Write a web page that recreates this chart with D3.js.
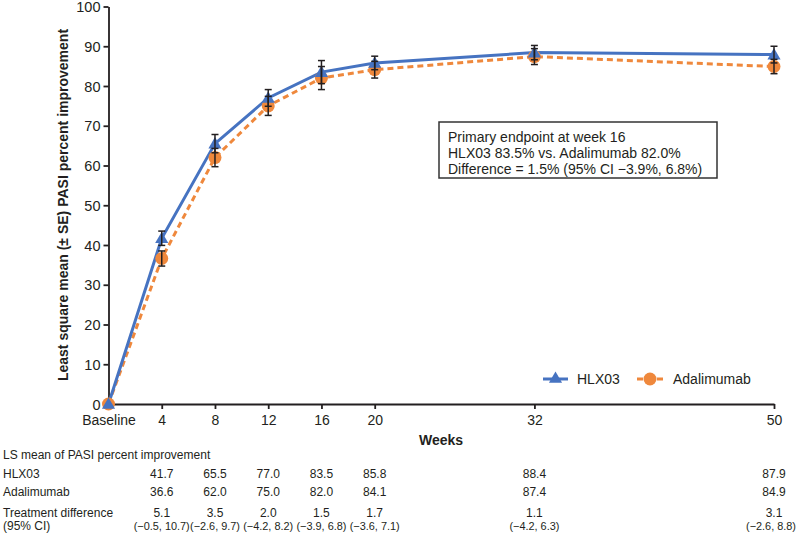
<!DOCTYPE html>
<html><head><meta charset="utf-8">
<script src="https://cdn.jsdelivr.net/npm/d3@7"></script>
<style>body{margin:0;background:#fff}svg{display:block;font-family:"Liberation Sans",Arial,sans-serif}</style>
</head><body><svg id="c" width="797" height="534"></svg>
<script>
const weeks = [0, 4, 8, 12, 16, 20, 32, 50];
const weekLabels = ["Baseline", "4", "8", "12", "16", "20", "32", "50"];
const hlx03 = [0, 41.7, 65.5, 77.0, 83.5, 85.8, 88.4, 87.9];
const hlx03SE = [0, 1.8, 2.3, 2.1, 2.9, 1.7, 1.8, 2.1];
const adalimumab = [0, 36.6, 62.0, 75.0, 82.0, 84.1, 87.4, 84.9];
const adalimumabSE = [0, 1.9, 2.3, 2.4, 2.9, 2.1, 2.0, 1.8];
const yTicks = [0, 10, 20, 30, 40, 50, 60, 70, 80, 90, 100];
const hlxTable = ["41.7", "65.5", "77.0", "83.5", "85.8", "88.4", "87.9"];
const adaTable = ["36.6", "62.0", "75.0", "82.0", "84.1", "87.4", "84.9"];
const diffTable = ["5.1", "3.5", "2.0", "1.5", "1.7", "1.1", "3.1"];
const ciTable = ["(\u22120.5, 10.7)", "(\u22122.6, 9.7)", "(\u22124.2, 8.2)", "(\u22123.9, 6.8)", "(\u22123.6, 7.1)", "(\u22124.2, 6.3)", "(\u22122.6, 8.8)"];
const boxLines = ["Primary endpoint at week 16", "HLX03 83.5% vs. Adalimumab 82.0%", "Difference = 1.5% (95% CI \u22123.9%, 6.8%)"];

const blue = "#4673c1", orange = "#ef883c", ink = "#231f20";
const svg = d3.select("#c");
const x = d3.scaleLinear().domain([0, 50]).range([108.5, 774]);
const y = d3.scaleLinear().domain([0, 100]).range([404, 6.5]);

// axes
const yAxis = svg.append("g").attr("transform", `translate(${x(0)},0)`)
  .call(d3.axisLeft(y).tickValues(yTicks).tickSize(5).tickSizeOuter(0).tickPadding(3));
const xAxis = svg.append("g").attr("transform", `translate(0,${y(0)})`)
  .call(d3.axisBottom(x).tickValues(weeks).tickFormat((d, i) => weekLabels[i]).tickSize(5).tickSizeOuter(0).tickPadding(6));
[yAxis, xAxis].forEach(a => {
  a.selectAll("path,line").attr("stroke", ink).attr("stroke-width", 1.8);
  a.selectAll("text").attr("fill", ink).style("font-size", "14.5px");
});
xAxis.selectAll("text").style("font-size", "14px");
yAxis.selectAll("text").attr("dy", "0.36em");

svg.append("text").attr("transform", `translate(68,205) rotate(-90)`).attr("text-anchor", "middle")
  .style("font-size", "14px").style("font-weight", "bold").attr("fill", ink)
  .text("Least square mean (\u00b1 SE) PASI percent improvement");
svg.append("text").attr("x", 441).attr("y", 445).attr("text-anchor", "middle")
  .style("font-size", "14px").style("font-weight", "bold").attr("fill", ink).text("Weeks");

// lines
const line = d3.line().x(d => x(d[0])).y(d => y(d[1]));
svg.append("path").datum(weeks.map((w, i) => [w, adalimumab[i]])).attr("d", line)
  .attr("fill", "none").attr("stroke", orange).attr("stroke-width", 3).attr("stroke-dasharray", "6,4");
svg.append("path").datum(weeks.map((w, i) => [w, hlx03[i]])).attr("d", line)
  .attr("fill", "none").attr("stroke", blue).attr("stroke-width", 3);

// markers
const tri = d3.symbol().type(d3.symbolTriangle).size(75);
svg.selectAll(".cir").data(weeks).enter().append("circle")
  .attr("cx", d => x(d)).attr("cy", (d, i) => y(adalimumab[i])).attr("r", 6.5).attr("fill", orange);
svg.selectAll(".tri").data(weeks).enter().append("path").attr("d", tri)
  .attr("transform", (d, i) => `translate(${x(d)},${y(hlx03[i]) + 1})`).attr("fill", blue);

// error bars
function errBars(vals, se) {
  const g = svg.append("g").attr("stroke", ink).attr("stroke-width", 1.5);
  weeks.forEach((w, i) => {
    if (!se[i]) return;
    const cx = x(w), t = y(vals[i] + se[i]), b = y(vals[i] - se[i]);
    g.append("line").attr("x1", cx).attr("x2", cx).attr("y1", t).attr("y2", b);
    g.append("line").attr("x1", cx - 3.5).attr("x2", cx + 3.5).attr("y1", t).attr("y2", t);
    g.append("line").attr("x1", cx - 3.5).attr("x2", cx + 3.5).attr("y1", b).attr("y2", b);
  });
}
errBars(hlx03, hlx03SE);
errBars(adalimumab, adalimumabSE);

// annotation box
svg.append("rect").attr("x", 439).attr("y", 122).attr("width", 278).attr("height", 56)
  .attr("fill", "#fff").attr("stroke", "#333").attr("stroke-width", 1.5);
boxLines.forEach((t, i) => svg.append("text").attr("x", 448).attr("y", 141.5 + i * 16.3)
  .style("font-size", "14px").attr("fill", ink).text(t));

// legend
const lg = svg.append("g");
lg.append("line").attr("x1", 543).attr("x2", 568).attr("y1", 379).attr("y2", 379).attr("stroke", blue).attr("stroke-width", 3);
lg.append("path").attr("d", tri).attr("transform", "translate(555.5,379)").attr("fill", blue);
lg.append("text").attr("x", 577).attr("y", 384).style("font-size", "14px").attr("fill", ink).text("HLX03");
lg.append("line").attr("x1", 637).attr("x2", 664).attr("y1", 379).attr("y2", 379).attr("stroke", orange).attr("stroke-width", 3).attr("stroke-dasharray", "6,4");
lg.append("circle").attr("cx", 650).attr("cy", 379).attr("r", 6.5).attr("fill", orange);
lg.append("text").attr("x", 673).attr("y", 384).style("font-size", "14px").attr("fill", ink).text("Adalimumab");

// table
const cols = weeks.slice(1);
const tg = svg.append("g").style("font-size", "12px").attr("fill", ink);
[["LS mean of PASI percent improvement", 459], ["HLX03", 478], ["Adalimumab", 496], ["Treatment difference", 516.5], ["(95% CI)", 530]]
  .forEach(([t, yy]) => tg.append("text").attr("x", 3).attr("y", yy).text(t));
[[hlxTable, 478], [adaTable, 496], [diffTable, 516.5]].forEach(([arr, yy]) => {
  tg.selectAll(null).data(arr).enter().append("text").attr("x", (d, i) => x(cols[i])).attr("y", yy)
    .attr("text-anchor", "middle").text(d => d);
});
tg.selectAll(null).data(ciTable).enter().append("text").attr("y", 530)
  .attr("text-anchor", "middle").style("font-size", "10.9px").text(d => d)
  .attr("x", function (d, i) { const w = this.getComputedTextLength(); return Math.min(x(cols[i]), 796 - w / 2); });
</script></body></html>
